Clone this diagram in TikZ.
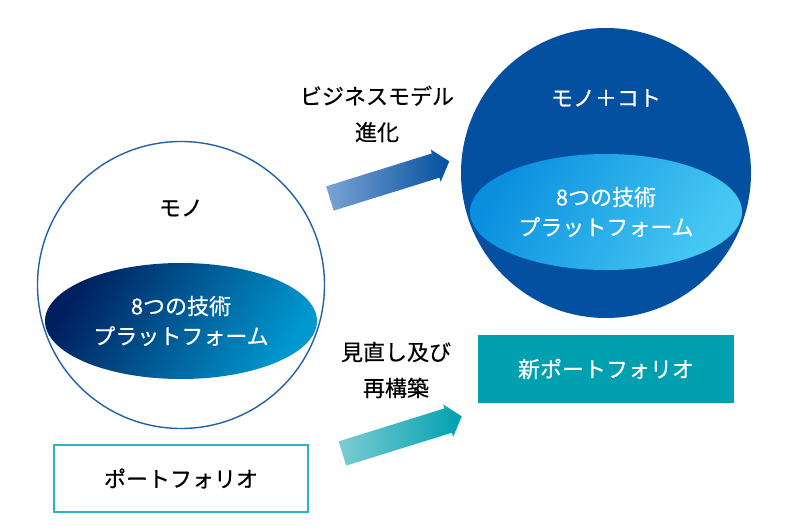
\documentclass[tikz,border=0pt]{standalone}
\usepackage{fontspec}
\setmainfont{Noto Sans CJK JP}[FakeBold=0.5]
\usetikzlibrary{shapes.geometric,shapes.arrows}
\definecolor{sphereblue}{HTML}{0350A0}
\definecolor{outlineblue}{HTML}{2060A8}
\definecolor{darkA}{HTML}{001F5E}
\definecolor{darkB}{HTML}{00417F}
\definecolor{darkC}{HTML}{0098CF}
\definecolor{lightA}{HTML}{0A8FDF}
\definecolor{lightB}{HTML}{48C9F3}
\definecolor{teal}{HTML}{00A0B0}
\definecolor{teallight}{HTML}{7CCCD4}
\definecolor{tealborder}{HTML}{2BB3C3}
\definecolor{arrowlight}{HTML}{7BA3D3}
\tikzset{
  lbl/.style={font=\fontsize{22pt}{36pt}\selectfont, align=center, inner sep=0pt},
  platform/.style={ellipse, minimum width=272pt, minimum height=116pt, inner sep=0pt,
     text=white, align=center, font=\fontsize{22pt}{30pt}\selectfont},
  bigarrow/.style={single arrow, rotate=17.3, minimum height=125pt,
     inner xsep=0pt, inner ysep=12.5pt,
     single arrow head extend=4.3pt, single arrow tip angle=100},
  pbox/.style={rectangle, minimum width=254pt, minimum height=67pt, inner sep=0pt,
     font=\fontsize{22pt}{30pt}\selectfont}
}
\begin{document}
\begin{tikzpicture}[x=1pt,y=-1pt]
\useasboundingbox (0,0) rectangle (789,529);
% left sphere
\node[platform, left color=darkA, middle color=darkB, right color=darkC, shading angle=60] (lp) at (181,321) {8つの技術\\プラットフォーム};
\node[circle, draw=outlineblue, line width=1.4pt, minimum size=287pt, inner sep=0pt] (ls) at (181,285) {};
\node[lbl] (mono) at (181,208) {モノ};
% right sphere
\node[circle, fill=sphereblue, minimum size=290pt, inner sep=0pt] (rs) at (606,173) {};
\node[platform, left color=lightA, right color=lightB, shading angle=60] (rp) at (606,212) {8つの技術\\プラットフォーム};
\node[lbl, text=white] (monokoto) at (606,98) {モノ＋コト};
% upper arrow
\node[bigarrow, left color=arrowlight, middle color=sphereblue, right color=sphereblue] (ua) at (384.5,181.5) {};
\node[lbl] (evo) at (377,114) {ビジネスモデル\\進化};
% lower arrow
\node[bigarrow, left color=teallight, middle color=teal, right color=teal] (la) at (397,436.5) {};
\node[lbl] (rebuild) at (396,370) {見直し及び\\再構築};
% boxes
\node[pbox, draw=tealborder, line width=1.8pt] (oldp) at (181,478.5) {ポートフォリオ};
\node[pbox, fill=teal, text=white, minimum width=256pt, minimum height=68pt] (newp) at (606,369) {新ポートフォリオ};
\end{tikzpicture}
\end{document}
